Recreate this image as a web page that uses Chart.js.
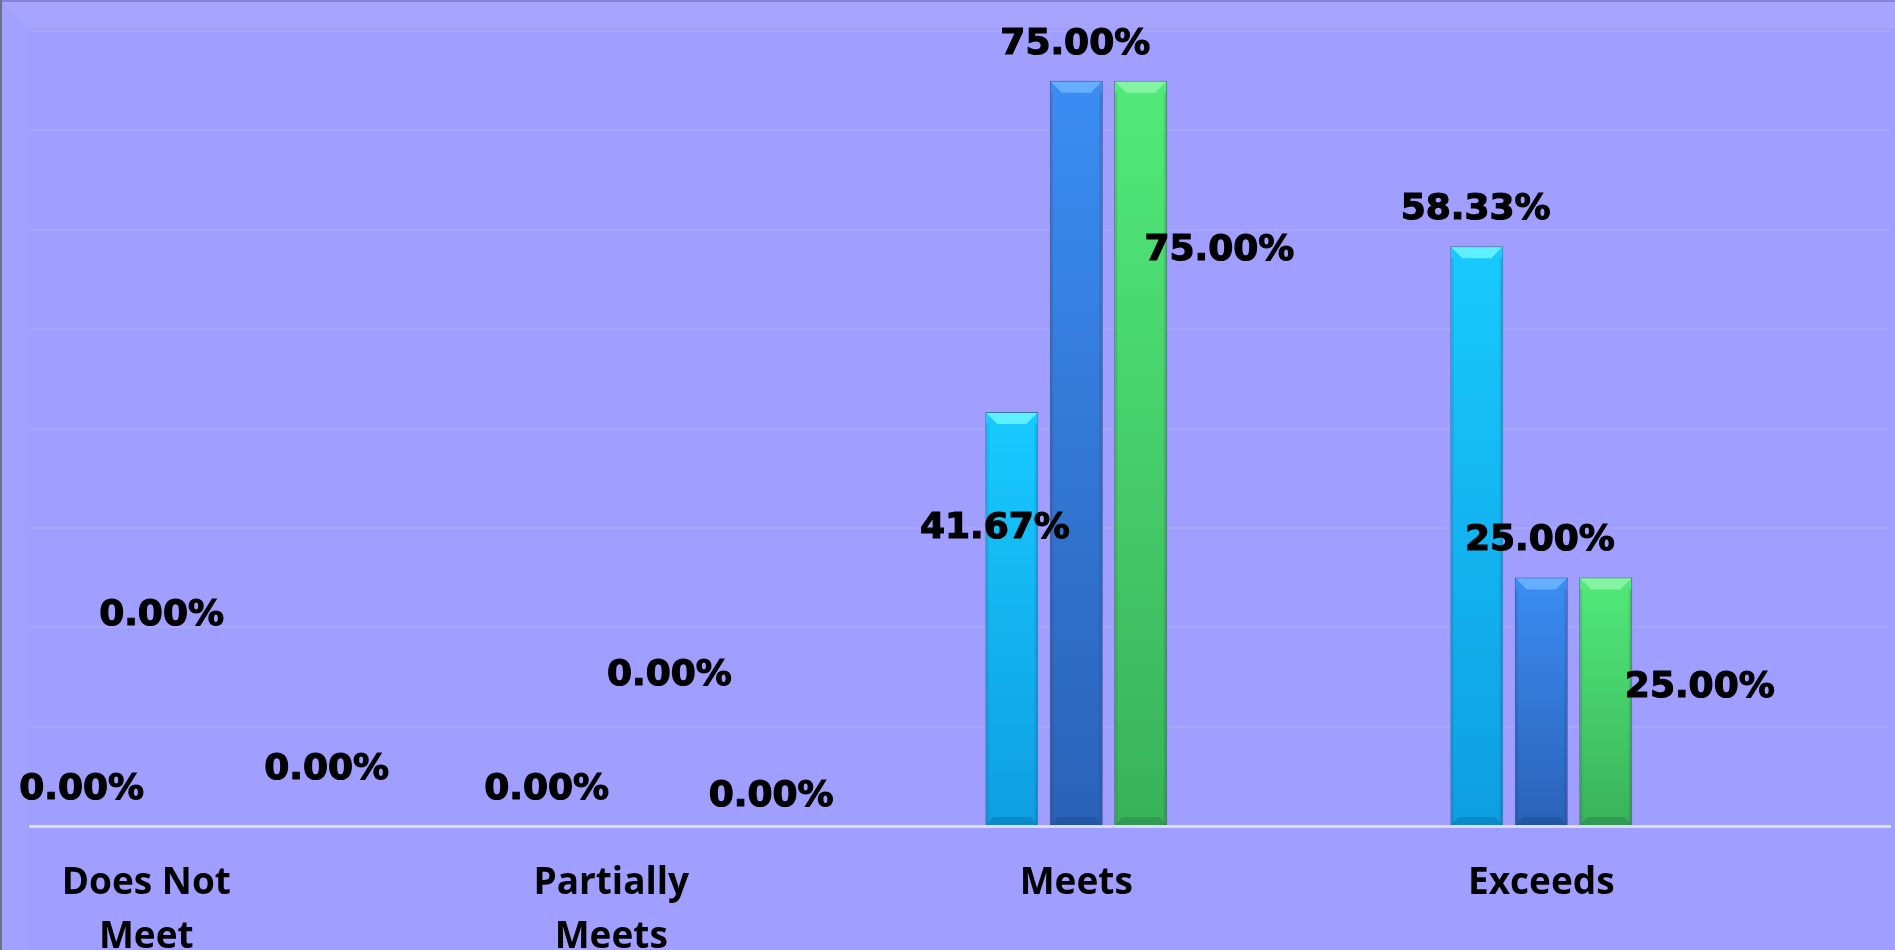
<!DOCTYPE html>
<html>
<head>
<meta charset="utf-8">
<title>Ratings</title>
<script src="https://cdn.jsdelivr.net/npm/chart.js@4.4.1/dist/chart.umd.min.js"></script>
<style>
  html, body { margin: 0; padding: 0; background: #a09eff; overflow: hidden; }
  #wrap { width: 1895px; height: 950px; }
</style>
</head>
<body>
<div id="wrap"><canvas id="chart" width="1895" height="950"></canvas></div>
<script>
// categories and values
const categories = [["Does Not", "Meet"], ["Partially", "Meets"], "Meets", "Exceeds"];
const seriesNames = ["Series 1", "Series 2", "Series 3"];
const series1 = [0, 0, 41.67, 58.33];
const series2 = [0, 0, 75.0, 25.0];
const series3 = [0, 0, 75.0, 25.0];
const yTicks = [0, 10, 20, 30, 40, 50, 60, 70, 80];

// where each value label sits: shift from the category centre (in categories) and level (in %)
const labelShift = [
	[-0.139, -0.139, -0.175, -0.141],
	[0.033, 0.125, -0.002, -0.003],
	[0.388, 0.344, 0.308, 0.341],
];
const labelLevel = [
	[3.7, 3.7, 29.9, 62.0],
	[21.2, 15.1, 78.6, 28.7],
	[5.7, 3.0, 57.9, 13.9],
];

// bar colours per series
const barTop = ["#18caff", "#3b8df3", "#52ea7a"];
const barBottom = ["#0e9ee2", "#2a62b8", "#39b25a"];
const bevelTop = ["#5ef0ff", "#66aeff", "#84f4a2"];
const edgeColor = ["#3a7a9e", "#34507e", "#3a7a52"];

// gradient per bar, top light to bottom dark
function barFill(i) {
	return (c) => {
		const chart = c.chart;
		const y = chart.scales && chart.scales.y;
		if (!y || !c.raw) return barTop[i];
		const top = y.getPixelForValue(c.raw.y);
		const base = y.getPixelForValue(0);
		if (!isFinite(top) || base - top < 1) return barTop[i];
		const g = chart.ctx.createLinearGradient(0, top, 0, base);
		g.addColorStop(0, barTop[i]);
		g.addColorStop(1, barBottom[i]);
		return g;
	};
}

// background frame like the Excel chart area
const framePlugin = {
	id: "frame",
	beforeDraw(chart) {
		const { ctx, width, height } = chart;
		ctx.save();
		ctx.fillStyle = "#a09eff";
		ctx.fillRect(0, 0, width, height);
		// top band
		ctx.fillStyle = "rgba(255,255,255,0.07)";
		ctx.beginPath();
		ctx.moveTo(0, 0);
		ctx.lineTo(width, 0);
		ctx.lineTo(width, 28);
		ctx.lineTo(28, 28);
		ctx.closePath();
		ctx.fill();
		// left band
		ctx.fillStyle = "rgba(255,255,255,0.04)";
		ctx.beginPath();
		ctx.moveTo(0, 0);
		ctx.lineTo(28, 28);
		ctx.lineTo(28, height);
		ctx.lineTo(0, height);
		ctx.closePath();
		ctx.fill();
		ctx.fillStyle = "rgba(70,70,170,0.35)";
		ctx.fillRect(0, 0, width, 2);
		ctx.fillStyle = "#6e6e86";
		ctx.fillRect(0, 0, 2, height);
		ctx.restore();
	},
};

// bevel on every bar, then the value labels
const bevelPlugin = {
	id: "bevel",
	afterDatasetsDraw(chart) {
		const ctx = chart.ctx;
		ctx.save();
		chart.data.datasets.forEach((ds, i) => {
			const meta = chart.getDatasetMeta(i);
			meta.data.forEach((bar, j) => {
				if (!ds.data[j].y) return;
				const w = bar.width;
				const l = bar.x - w / 2;
				const r = bar.x + w / 2;
				const t = bar.y;
				const b = bar.base;
				const h = 12;
				ctx.fillStyle = bevelTop[i];
				ctx.beginPath();
				ctx.moveTo(l + 1, t + 1);
				ctx.lineTo(r - 1, t + 1);
				ctx.lineTo(r - h, t + h);
				ctx.lineTo(l + h, t + h);
				ctx.closePath();
				ctx.fill();
				// sides
				let g = ctx.createLinearGradient(l, 0, r, 0);
				g.addColorStop(0, "rgba(0,0,40,0.2)");
				g.addColorStop(0.08, "rgba(0,0,40,0)");
				g.addColorStop(0.92, "rgba(0,0,40,0)");
				g.addColorStop(1, "rgba(0,0,40,0.25)");
				ctx.fillStyle = g;
				ctx.fillRect(l + 1, t + h, w - 2, b - t - h);
				// bottom bevel
				ctx.fillStyle = "rgba(0,20,60,0.15)";
				ctx.beginPath();
				ctx.moveTo(l + 1, b);
				ctx.lineTo(r - 1, b);
				ctx.lineTo(r - 8, b - 8);
				ctx.lineTo(l + 8, b - 8);
				ctx.closePath();
				ctx.fill();
			});
		});
		ctx.restore();
	},
	afterDraw(chart) {
		const ctx = chart.ctx;
		const xs = chart.scales.x;
		const ys = chart.scales.y;
		ctx.save();
		ctx.font = 'bold 36px "DejaVu Sans"';
		ctx.fillStyle = "#000";
		ctx.strokeStyle = "#000";
		ctx.lineWidth = 1.2;
		ctx.textAlign = "center";
		ctx.textBaseline = "middle";
		chart.data.datasets.forEach((ds, i) => {
			ds.data.forEach((p, j) => {
				const px = xs.getPixelForValue(p.x + labelShift[i][j]);
				const py = ys.getPixelForValue(labelLevel[i][j]);
				const txt = p.y.toFixed(2) + "%";
				ctx.fillText(txt, px, py);
				ctx.strokeText(txt, px, py);
			});
		});
		ctx.restore();
	},
};

const allSeries = [series1, series2, series3];

new Chart(document.getElementById("chart"), {
	type: "bar",
	data: {
		datasets: allSeries.map((vals, i) => ({
			label: seriesNames[i],
			data: vals.map((v, j) => ({ x: j, y: v })),
			backgroundColor: barFill(i),
			borderColor: edgeColor[i],
			borderWidth: (c) => (c.raw && c.raw.y ? 1 : 0),
			categoryPercentage: 0.416,
			barPercentage: 0.822,
		})),
	},
	options: {
		responsive: false,
		animation: false,
		layout: { padding: { left: 30, right: 5, top: 31, bottom: 0 } },
		plugins: {
			legend: { display: false },
			tooltip: { enabled: false },
		},
		scales: {
			x: {
				type: "linear",
				offset: false,
				min: -0.25,
				max: 3.75,
				afterBuildTicks: (s) => {
					s.ticks = categories.map((c, j) => ({ value: j }));
				},
				afterFit: (s) => {
					s.height = 124;
				},
				grid: { display: false, offset: false },
				border: { display: true, color: "rgba(226,226,246,0.9)", width: 3 },
				ticks: {
					autoSkip: false,
					maxRotation: 0,
					padding: 22,
					color: "#000",
					font: { family: "Open Sans", size: 37, weight: "bold", lineHeight: 1.47 },
					callback: (v) => categories[v],
				},
			},
			y: {
				min: 0,
				max: 80,
				afterBuildTicks: (s) => {
					s.ticks = yTicks.map((v) => ({ value: v }));
				},
				afterFit: (s) => {
					s.width = 0;
				},
				grid: {
					color: "rgba(255,255,255,0.09)",
					lineWidth: 2,
					drawTicks: false,
				},
				border: { display: false },
				ticks: { display: false },
			},
		},
	},
	plugins: [framePlugin, bevelPlugin],
});
</script>
</body>
</html>
